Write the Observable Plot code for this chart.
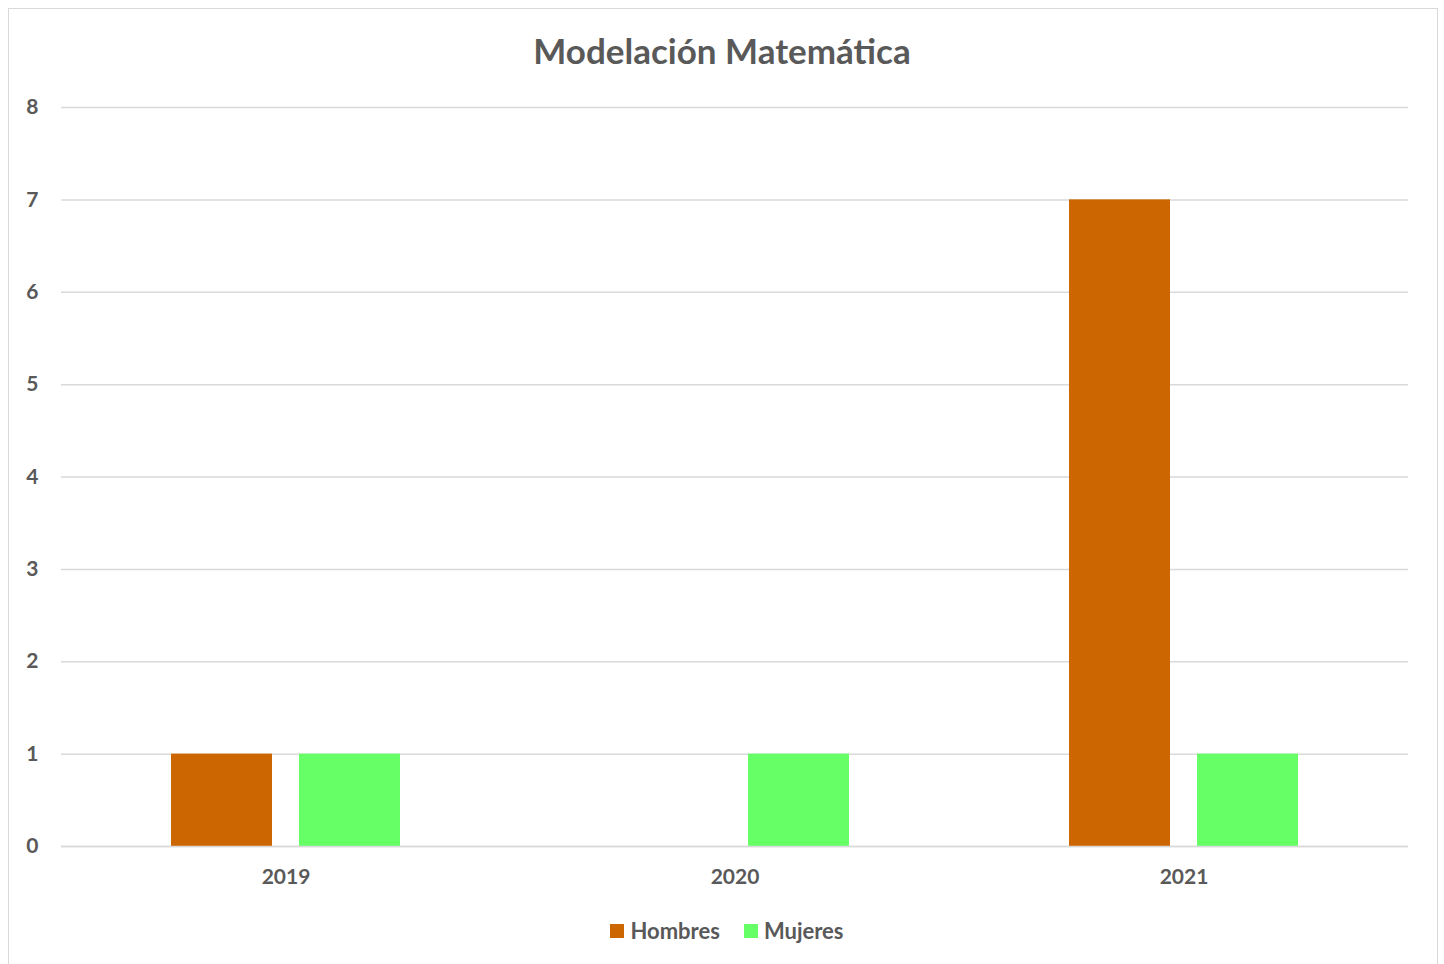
<!DOCTYPE html>
<html>
<head>
<meta charset="utf-8">
<script src="https://cdn.jsdelivr.net/npm/d3@7"></script>
<script src="https://cdn.jsdelivr.net/npm/@observablehq/plot@0.6"></script>
<style>
  html, body { margin: 0; padding: 0; background: #fff; }
  #wrap { position: relative; width: 1444px; height: 964px; overflow: hidden; font-family: Lato, "Open Sans", sans-serif; }
  #frame { position: absolute; left: 8px; top: 8px; width: 1430px; height: 1000px; border: 1.5px solid #d9d9d9; box-sizing: border-box; }
  #title { position: absolute; left: 0; width: 1444px; top: 29px; text-align: center; font-weight: bold; font-size: 35px; color: #595959; }
  #chart { position: absolute; left: 0; top: 0; }
  #legend { position: absolute; left: 5px; width: 1444px; top: 917px; display: flex; justify-content: center; gap: 24px; font-size: 22px; font-weight: bold; color: #595959; }
  .item { display: flex; align-items: center; gap: 6px; }
  .sw { width: 14px; height: 14px; display: inline-block; }
</style>
</head>
<body>
<div id="wrap">
  <div id="frame"></div>
  <div id="chart"></div>
  <div id="title">Modelación Matemática</div>
  <div id="legend"></div>
</div>
<script>
const years = ["2019", "2020", "2021"];
const series = ["Hombres", "Mujeres"];
const hombres = [1, 0, 7];
const mujeres = [1, 1, 1];
const colors = ["#cc6600", "#66ff66"];
const yTicks = [0, 1, 2, 3, 4, 5, 6, 7, 8];

const data = [];
years.forEach((y, i) => {
  data.push({year: y, serie: series[0], value: hombres[i]});
  data.push({year: y, serie: series[1], value: mujeres[i]});
});

const chart = Plot.plot({
  width: 1444,
  height: 900,
  marginLeft: 60,
  marginRight: 36,
  marginTop: 107,
  marginBottom: 54,
  style: {fontFamily: "Lato, 'Open Sans', sans-serif", fontSize: "21px", fontWeight: "bold", color: "#595959", background: "transparent"},
  fx: {domain: years, padding: 0, label: null, tickSize: 0, tickPadding: 23, axis: "bottom"},
  x: {domain: series, axis: null, paddingInner: 0.211, paddingOuter: 0.85},
  y: {domain: [0, 8], ticks: yTicks, label: null, tickSize: 0, tickPadding: 23, tickFormat: d3.format("d")},
  color: {domain: series, range: colors},
  marks: [
    Plot.gridY(yTicks, {stroke: "#d9d9d9", strokeOpacity: 1, strokeWidth: 1.5}),
    Plot.barY(data, {fx: "year", x: "serie", y: "value", fill: "serie", insetLeft: 0, insetRight: 0}),
    Plot.ruleY([0], {stroke: "#d9d9d9", strokeWidth: 1.5})
  ]
});
document.getElementById("chart").appendChild(chart);

const legend = document.getElementById("legend");
series.forEach((s, i) => {
  const it = document.createElement("div");
  it.className = "item";
  const sw = document.createElement("span");
  sw.className = "sw";
  sw.style.background = colors[i];
  const t = document.createElement("span");
  t.textContent = s;
  it.appendChild(sw);
  it.appendChild(t);
  legend.appendChild(it);
});
</script>
</body>
</html>
